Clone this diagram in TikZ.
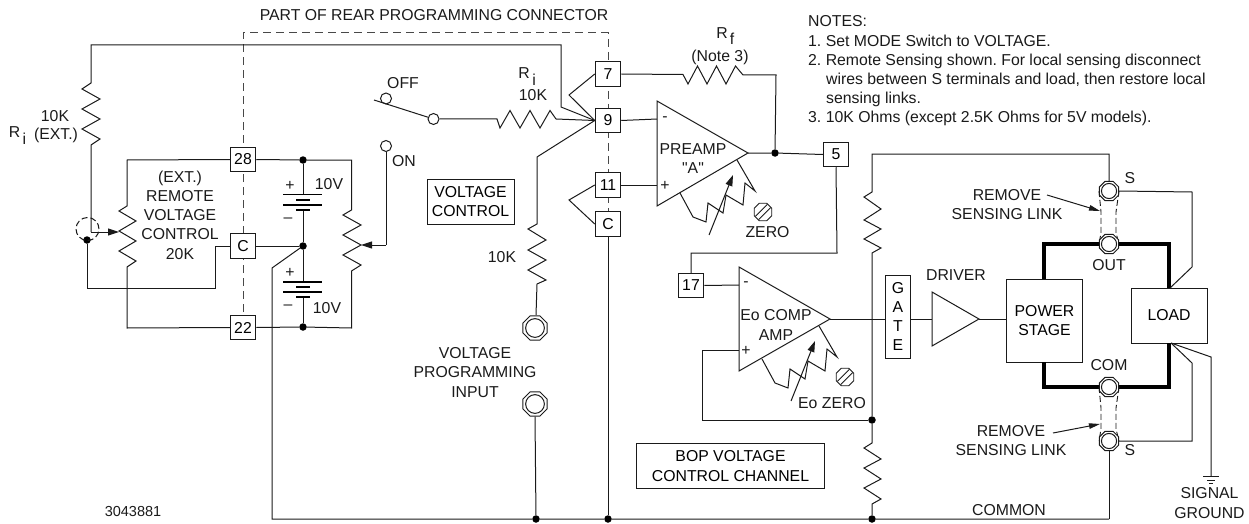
\documentclass[tikz,border=0pt]{standalone}
\usepackage{fontspec}
\setmainfont{Liberation Sans}
\newfontfamily\plainf{Liberation Sans}
\usetikzlibrary{arrows.meta,shapes.geometric}
\definecolor{ink}{HTML}{1A1A1A}
\newcommand{\fs}{\fontsize{15.8}{19.2}\selectfont\frenchspacing}
\tikzset{
  wire/.style={line width=1pt,draw=ink,line join=miter},
  thick wire/.style={line width=3.6pt,draw=black,line join=miter},
  dashwire/.style={line width=1pt,draw=ink!80,dash pattern=on 8pt off 5pt},
  termbox/.style={draw=ink,line width=1pt,fill=white,minimum width=25.5pt,minimum height=24.5pt,inner sep=0pt,font=\fs},
  lbl/.style={inner sep=0pt,font=\fs,align=center,text=ink},
  notes/.style={inner sep=0pt,font=\fs,anchor=base west,text=ink},
  jdot/.style={circle,fill=black,draw=none,minimum size=7.5pt,inner sep=0pt},
  ringnode/.style={circle,draw=ink,line width=1pt,fill=white,minimum size=11pt,inner sep=0pt},
  hexnode/.style={regular polygon,regular polygon sides=8,draw=ink,line width=1pt,fill=white,inner sep=0pt},
  tip/.style={-{Triangle[length=11pt,width=7pt]}},
  inner ring/.style={draw=ink,line width=1pt,fill=white},
  lblbox/.style={draw=ink,line width=1pt,inner sep=0pt,font=\fs,align=center},
}
\newcommand{\hexat}[3]{\node[hexnode,minimum size=#3 pt] (#1) at (#2) {}; \draw[inner ring] (#1.center) circle (0.36*#3 pt);}
\newcommand{\screwat}[2]{\node[regular polygon,regular polygon sides=8,draw=ink,line width=0.9pt,minimum size=19pt,inner sep=0pt] (#1) at (#2) {};
  \draw[wire,line width=0.9pt] ([shift={(-7.6,4.4)}]#2) -- ([shift={(4.4,-7.6)}]#2) ([shift={(-4.4,7.6)}]#2) -- ([shift={(7.6,-4.4)}]#2);}
\begin{document}
\begin{tikzpicture}[x=1pt,y=-1pt]
\useasboundingbox (0,0) rectangle (1249,524);
% dashed connector outline
\coordinate (dA) at (243,33); \coordinate (dB) at (608,33);
\draw[dashwire] (243,325) -- (dA) -- (dB) -- (608,215);
\coordinate (tl) at (91,45); \coordinate (tr) at (561,45); \coordinate (tj) at (561,107);
% terminal boxes
\node[termbox] (b28) at (243,159.5) {28};
\node[termbox] (bC1) at (243,246) {C};
\node[termbox] (b22) at (243,327.5) {22};
\node[termbox] (b7) at (608,74) {7};
\node[termbox] (b9) at (608,120.5) {9};
\node[termbox] (b11) at (608,185) {11};
\node[termbox] (bC2) at (608,224) {C};
\node[termbox] (b5) at (836,154.5) {5};
\node[termbox] (b17) at (691,285.5) {17};
\node[jdot] (j1) at (303,160) {};
\node[jdot] (j2) at (303,246) {};
\node[jdot] (j3) at (303,327) {};
\node[jdot] (j4) at (87,240) {};
\node[jdot] (j5) at (775,153) {};
\node[jdot] (j6) at (872,420) {};
\node[jdot] (j7) at (536,519) {};
\node[jdot] (j8) at (608,519) {};
\node[jdot] (j9) at (872,519) {};
% external Ri
\draw[wire] (b9.west) -- (tj) -- (tr) -- (tl) -- (91,83) -- (82,89) -- (100,99) -- (82,109) -- (100,119) -- (82,129) -- (100,139) -- (91,145) -- (91,232) coordinate (wip1);
\draw[wire,tip] (wip1) -- (119,232);
\draw[wire,dash pattern=on 6pt off 3pt] (87.5,229) circle (11.5pt);
% remote pot
\draw[wire] (b28.west) -- (127,160) -- (127,206) -- (119,211) -- (136,221) -- (119,231) -- (136,241) -- (119,251) -- (136,261) -- (127,267) -- (127,328) -- (b22.west);
\draw[wire] (j4) -- (87,288) -- (215,288) -- (215,246) -- (bC1.west);
% batteries
\draw[wire] (b28.east) -- (j1) -- (351.5,160) -- (351.5,210) -- (343,215) -- (361,225) -- (343,235) -- (361,245) -- (343,255) -- (361,265) -- (351.5,271) -- (351.5,328) -- (j3) -- (b22.east);
\draw[wire] (bC1.east) -- (j2);
\draw[wire] (j1) -- (303,194.5);
\draw[wire] (303,210) -- (j2) -- (303,282);
\draw[wire] (303,297) -- (j3);
\foreach \y in {194.5,205,282,292}{\draw[line width=1.8pt,draw=black] (283,\y) -- (322,\y);}
\foreach \y in {200,210,287,297}{\draw[line width=2.4pt,draw=black] (296,\y) -- (310,\y);}
\draw[wire] (j2) -- (272,268) -- (272,519) -- (j7) -- (j8) -- (j9) -- (1109,519);
% switch
\node[ringnode] (off) at (386,98.5) {};
\node[ringnode] (on) at (386,146) {};
\node[ringnode] (sw) at (433.5,119) {};
\draw[wire] (374,100) -- (sw);
\draw[wire] (on) -- (386,245) coordinate (wip2);
\draw[wire,tip] (wip2) -- (361,245);
\draw[wire] (sw) -- (497,119) -- (500,128) -- (510,110.5) -- (520,128) -- (530,110.5) -- (540,128) -- (550,110.5) -- (556,119) -- (b9.west);
% terminals 7, 9, 11, C on the right
\draw[wire] (b7.west) -- (569,95) -- (b9.west);
\draw[wire] (b9.west) -- (537,157) -- (537,224) -- (528,229) -- (546,240) -- (528,250) -- (546,260) -- (528,270) -- (546,280) -- (537,284) -- (536,315);
\draw[wire] (b11.west) -- (569,200) -- (bC2.west);
\draw[wire] (bC2.south) -- (j8);
\hexat{h1}{535,328}{26}
\hexat{h2}{535,404}{26}
\draw[wire] (h2.south) -- (j7);
% preamp
\coordinate (p1) at (657,101); \coordinate (p2) at (657,206); \coordinate (p3) at (748,153);
\draw[wire] (p1) -- (p2) -- (p3) -- cycle;
\draw[wire] (b9.east) -- (657,119);
\draw[wire] (b11.east) -- (657,185);
\draw[wire] (p3) -- (j5) -- (b5.west);
\draw[wire] (b7.east) -- (683,74.5) -- (688,84) -- (697.5,66) -- (707,84) -- (716.5,66) -- (726,84) -- (735.5,66) -- (743,75) -- (776,75) -- (j5);
\draw[wire] (737,160) -- (755,191) -- (745,183) -- (743,205) -- (726,195) -- (723,213) -- (708,203) -- (706,222) -- (693,217) -- (680,193);
\draw[wire,tip] (709,235) -- (733,175);
\screwat{s1}{763,212}
% Eo comp amp
\coordinate (e1) at (739,267); \coordinate (e2) at (739,371); \coordinate (e3) at (830,319);
\draw[wire] (e1) -- (e2) -- (e3) -- cycle;
\draw[wire] (b5.south) -- (837,253) -- (691,253) -- (b17.north);
\draw[wire] (b17.east) -- (739,285);
\draw[wire] (739,350) -- (702,350) -- (702,420) -- (j6);
\draw[wire] (819,326) -- (837,357) -- (827,349) -- (825,371) -- (808,361) -- (805,379) -- (790,369) -- (788,388) -- (775,383) -- (762,359);
\draw[wire,tip] (791,401) -- (815,341);
\screwat{s2}{845,377}
% driver path
\node[lblbox,fill=white,minimum width=25.5pt,minimum height=83pt] (gate) at (898,316.5) {G\\A\\T\\E};
\node[lblbox,minimum width=75.5pt,minimum height=83pt] (pwr) at (1044.5,320.5) {POWER\\STAGE};
\node[lblbox,minimum width=76pt,minimum height=55pt] (load) at (1169,315.5) {LOAD};
\draw[wire] (e3) -- (gate.west |- e3);
\coordinate (d1) at (932,292); \coordinate (d2) at (932,346); \coordinate (d3) at (979,319);
\draw[wire] (d1) -- (d2) -- (d3) -- cycle;
\draw[wire] (gate.east |- e3) -- (932,319);
\draw[wire] (d3) -- (pwr.west |- d3);
% divider
\draw[wire] (1109,185) -- (1109,154) -- (872,154) -- (872,192) -- (864,197) -- (881,209) -- (864,220) -- (881,229) -- (864,239) -- (881,248) -- (872,253) -- (j6) -- (872,443) -- (864,448) -- (881,459) -- (864,468) -- (881,479) -- (864,488) -- (881,499) -- (872,504) -- (j9);
% thick output wires
\draw[thick wire] (1044,279) -- (1044,244) -- (1169,244) -- (1169,288);
\draw[thick wire] (1044,362) -- (1044,387) -- (1169,387) -- (1169,343);
% sensing links
\draw[wire,dash pattern=on 6pt off 3pt,line width=0.9pt] (1099,191) -- (1101,212) -- (1101,233) -- (1099,244) (1119,191) -- (1116,212) -- (1116,233) -- (1119,244);
\draw[wire,dash pattern=on 6pt off 3pt,line width=0.9pt] (1099,387) -- (1101,408) -- (1101,429) -- (1099,441) (1119,387) -- (1116,408) -- (1116,429) -- (1119,441);
\hexat{hS1}{1109,191}{21}
\hexat{hO}{1109,244}{21}
\hexat{hC}{1109,387}{21}
\hexat{hS2}{1109,441}{21}
\draw[wire] (hS1.east) -- (1192,192) -- (1192,267) -- (1170,288);
\draw[wire] (hS2.east) -- (1192,441) -- (1192,363) -- (1171,343);
\draw[wire] (1171,343) -- (1211,357) -- (1211,476) coordinate (gnd);
\draw[wire] (1203,476) -- (1219,476) (1207,480) -- (1215,480) (1209,483.5) -- (1213,483.5);
\draw[wire] (hS2.south) -- (1109,519);
\draw[wire,-{Triangle[length=11pt,width=5.5pt]}] (1047,195) -- (1100,211);
\draw[wire,-{Triangle[length=11pt,width=5.5pt]}] (1053,433) -- (1100,424);
% labelled boxes
\node[lblbox,minimum width=87pt,minimum height=45pt] (vc) at (470.5,201.5) {VOLTAGE\\CONTROL};
\node[lblbox,minimum width=187.5pt,minimum height=44.5pt] (bop) at (730.5,466) {BOP VOLTAGE\\CONTROL CHANNEL};
% text
\node[lbl] (t1) at (434,15) {PART OF REAR PROGRAMMING CONNECTOR};
\node[lbl] (t2) at (55,116) {10K};
\node[lbl] (t3) at (14.5,132) {R};
\node[lbl] (t4) at (24.5,139) {i};
\node[lbl] (t5) at (56,135) {(EXT.)};
\node[lbl] (t6) at (180,215) {(EXT.)\\REMOTE\\VOLTAGE\\CONTROL\\20K};
\node[lbl] (t7) at (329,184) {10V};
\node[lbl] (t8) at (327,308) {10V};
\node[lbl] (t9) at (290,186) {+};
\node[lbl] (t10) at (290,273) {+};
\node[lbl] (t11) at (288,220) {–};
\node[lbl] (t12) at (288,307) {–};
\node[lbl] (t13) at (403,83) {OFF};
\node[lbl] (t14) at (404,161) {ON};
\node[lbl] (t15) at (524,73) {R};
\node[lbl] (t16) at (534,80) {i};
\node[lbl] (t17) at (533,95) {10K};
\node[lbl] (t18) at (722,33) {R};
\node[lbl] (t19) at (732,39) {f};
\node[lbl] (t20) at (720,57) {(Note 3)};
\node[lbl] (t21) at (693,158.5) {PREAMP\\{\plainf "A"}};
\node[lbl] (t22) at (665,119) {-};
\node[lbl] (t23) at (665,186) {+};
\node[lbl] (t24) at (767.5,232) {ZERO};
\node[lbl] (t25) at (502,257) {10K};
\node[lbl] (t26) at (475,372.5) {VOLTAGE\\PROGRAMMING\\INPUT};
\node[lbl] (t27) at (776,325) {Eo COMP\\AMP};
\node[lbl] (t28) at (746,284) {-};
\node[lbl] (t29) at (746,351) {+};
\node[lbl] (t30) at (832,403) {Eo ZERO};
\node[lbl] (t31) at (956,275) {DRIVER};
\node[lbl] (t32) at (1130,178) {S};
\node[lbl] (t33) at (1130,450) {S};
\node[lbl] (t34) at (1109,265) {OUT};
\node[lbl] (t35) at (1109,365) {COM};
\node[lbl] (t36) at (1007,204.5) {REMOVE\\SENSING LINK};
\node[lbl] (t37) at (1011,440.5) {REMOVE\\SENSING LINK};
\node[lbl] (t38) at (1009,510) {COMMON};
\node[lbl] (t39) at (1209.5,503) {SIGNAL\\GROUND};
\node[lbl,font=\fontsize{14.5}{15}\selectfont] (t40) at (133,512) {3043881};
\node[notes] (n0) at (808,27) {NOTES:};
\node[notes] (n1) at (808,46.5) {1. Set MODE Switch to VOLTAGE.};
\node[notes] (n2) at (808,66) {2. Remote Sensing shown. For local sensing disconnect};
\node[notes] (n3) at (826,85) {wires between S terminals and load, then restore local};
\node[notes] (n4) at (826,103.5) {sensing links.};
\node[notes] (n5) at (808,122.5) {3. 10K Ohms (except 2.5K Ohms for 5V models).};
\end{tikzpicture}
\end{document}
